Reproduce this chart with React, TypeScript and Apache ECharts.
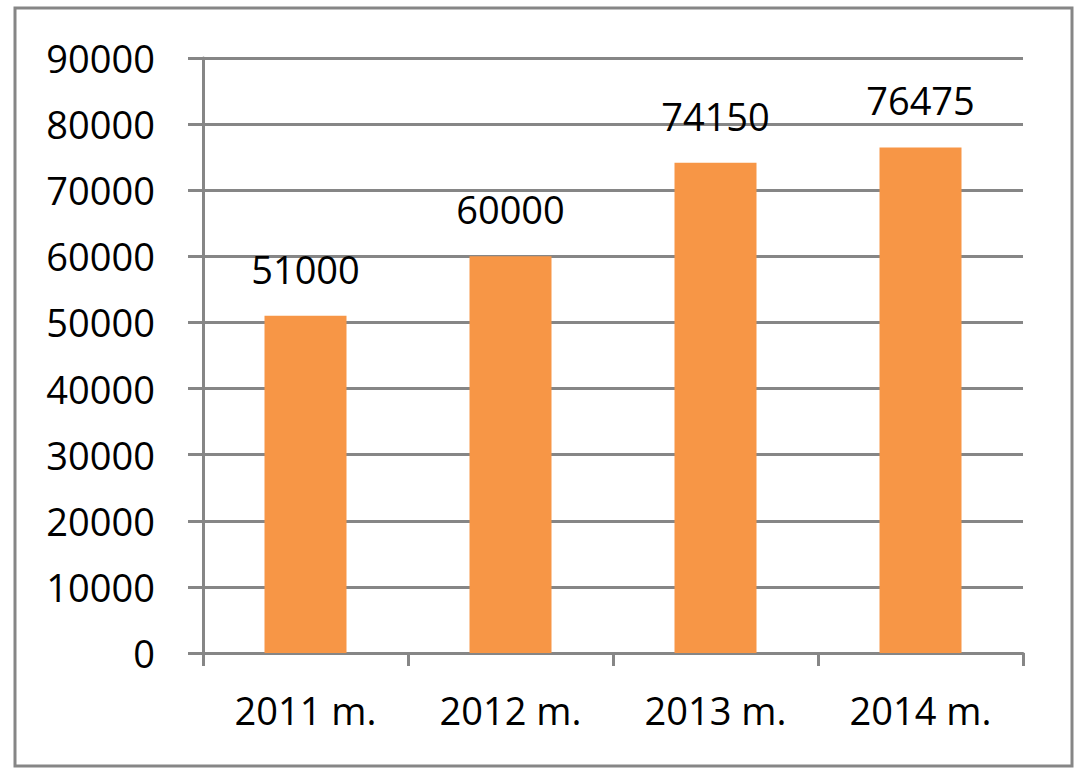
import React, { useEffect, useRef } from "react";
import * as echarts from "echarts";

const categories = ["2011 m.", "2012 m.", "2013 m.", "2014 m."];
const values = [51000, 60000, 74150, 76475];
const yMin = 0;
const yMax = 90000;
const yInterval = 10000;

const GRAY = "#868686";
const FONT = "Open Sans";

export default function App() {
  const ref = useRef<HTMLDivElement>(null);
  useEffect(() => {
    if (!ref.current) return;
    const chart = echarts.init(ref.current, undefined, { renderer: "svg" });
    chart.setOption({
      animation: false,
      backgroundColor: "#ffffff",
      graphic: [
        {
          type: "rect",
          shape: { x: 15, y: 8, width: 1057, height: 758 },
          style: { fill: "none", stroke: GRAY, lineWidth: 3 },
          silent: true,
        },
      ],
      grid: { left: 203, right: 66, top: 58, bottom: 128, containLabel: false },
      xAxis: {
        type: "category",
        data: categories,
        boundaryGap: true,
        axisLine: { show: true, lineStyle: { color: GRAY, width: 3 } },
        axisTick: { show: true, length: 13, lineStyle: { color: GRAY, width: 3 } },
        axisLabel: { margin: 38, fontFamily: FONT, fontSize: 38, color: "#000" },
        splitLine: { show: false },
      },
      yAxis: {
        type: "value",
        min: yMin,
        max: yMax,
        interval: yInterval,
        axisLine: { show: true, lineStyle: { color: GRAY, width: 3 } },
        axisTick: { show: true, length: 15, lineStyle: { color: GRAY, width: 3 } },
        axisLabel: {
          margin: 48,
          fontFamily: FONT,
          fontSize: 38,
          color: "#000",
          formatter: (v: number) => String(v),
        },
        splitLine: { show: true, lineStyle: { color: GRAY, width: 3 } },
      },
      series: [
        {
          type: "bar",
          data: values,
          barWidth: "40%",
          itemStyle: { color: "#F79646" },
          label: {
            show: true,
            position: "top",
            distance: 28,
            fontFamily: FONT,
            fontSize: 38,
            color: "#000",
          },
        },
      ],
    });
    return () => chart.dispose();
  }, []);
  return (
    <div
      ref={ref}
      style={{ position: "absolute", left: 0, top: 0, width: 1089, height: 781 }}
    />
  );
}
